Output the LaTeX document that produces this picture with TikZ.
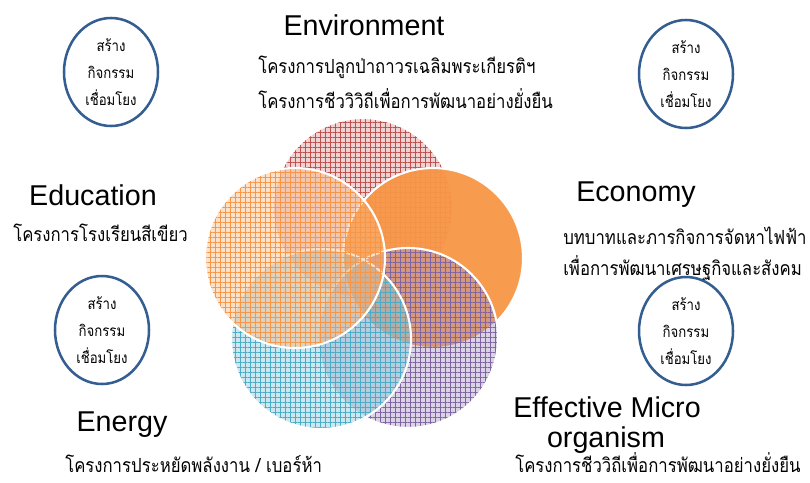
\documentclass[tikz,border=0pt]{standalone}
\usepackage{fontspec}
\setmainfont{Liberation Sans}
\newfontfamily\thai[Script=Thai, FakeStretch=0.86]{Loma}
\usetikzlibrary{patterns.meta,shapes.geometric}
\definecolor{redL}{HTML}{C0504D}
\definecolor{redF}{HTML}{D99594}
\definecolor{orgL}{HTML}{F79646}
\definecolor{orgF}{HTML}{FAB77E}
\definecolor{purL}{HTML}{8064A2}
\definecolor{purF}{HTML}{A694C2}
\definecolor{bluL}{HTML}{4BACC6}
\definecolor{bluF}{HTML}{86C7D9}
\definecolor{ringC}{HTML}{345E91}
\begin{document}
\begin{tikzpicture}[x=0.75pt,y=-0.75pt,
  bigc/.style={circle, minimum size=135pt, inner sep=0pt, outer sep=0pt, draw=white, line width=1.6pt},
  hatched/.style 2 args={preaction={fill=#1, fill opacity=0.42},
     pattern={Hatch[distance=3.75pt, line width=0.5pt]}, pattern color=#2, fill opacity=0.55},
  ring/.style={ellipse, minimum width=70.5pt, minimum height=81pt, inner sep=0pt,
     draw=ringC, line width=1.9pt, align=center, font=\thai\fontsize{11.5}{20}\selectfont},
  title/.style={font=\fontsize{21.5}{24}\selectfont, inner sep=0pt},
  thaitxt/.style={font=\thai\fontsize{14.6}{24}\selectfont, inner sep=0pt, anchor=west}
]
\useasboundingbox (0,0) rectangle (810,482);

% big circles
\node[bigc, hatched={redF}{redL}] (env) at (363,208) {};
\node[bigc, fill=orgL, fill opacity=0.95] (eco) at (433,258) {};
\node[bigc, hatched={purF}{purL}] (emo) at (408,338) {};
\node[bigc, hatched={bluF}{bluL}] (ene) at (321,339) {};
\node[bigc, hatched={orgF}{orgL}] (edu) at (295,258) {};

% small rings
\node[ring] (r1) at (111,72) {สร้าง\\กิจกรรม\\เชื่อมโยง};
\node[ring] (r2) at (686,74) {สร้าง\\กิจกรรม\\เชื่อมโยง};
\node[ring] (r3) at (102,330) {สร้าง\\กิจกรรม\\เชื่อมโยง};
\node[ring] (r4) at (686,331) {สร้าง\\กิจกรรม\\เชื่อมโยง};

% titles
\node[title] (tEnv) at (364,25) {Environment};
\node[title] (tEdu) at (93,195) {Education};
\node[title] (tEco) at (636,195) {Economy};
\node[title] (tEne) at (122,425) {Energy};
\node[title] (tEmo1) at (607,407) {Effective Micro};
\node[title] (tEmo2) at (606,440) {organism};

% thai descriptions
\node[thaitxt] (dEnv1) at (258,67) {โครงการปลูกป่าถาวรเฉลิมพระเกียรติฯ};
\node[thaitxt] (dEnv2) at (258,99) {โครงการชีววิวิถีเพื่อการพัฒนาอย่างยั่งยืน};
\node[thaitxt] (dEdu) at (13,233) {โครงการโรงเรียนสีเขียว};
\node[thaitxt] (dEco1) at (563,236) {บทบาทและภารกิจการจัดหาไฟฟ้า};
\node[thaitxt] (dEco2) at (563,268) {เพื่อการพัฒนาเศรษฐกิจและสังคม};
\node[thaitxt] (dEne) at (65,464) {โครงการประหยัดพลังงาน / เบอร์ห้า};
\node[thaitxt] (dEmo) at (515,463) {โครงการชีววิถีเพื่อการพัฒนาอย่างยั่งยืน};
\end{tikzpicture}
\end{document}
